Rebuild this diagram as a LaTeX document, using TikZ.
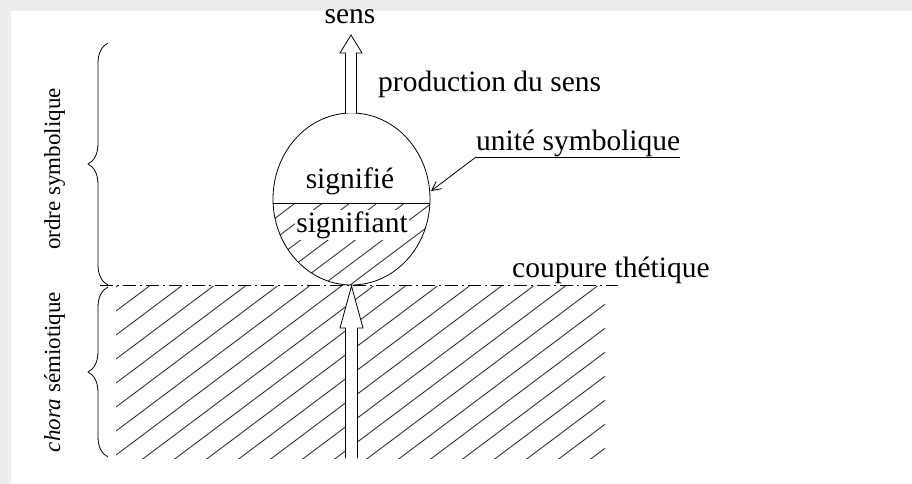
\documentclass[tikz,border=0pt]{standalone}
\usepackage{fontspec}
\setmainfont{Liberation Serif}
\usetikzlibrary{decorations.pathreplacing,arrows.meta}
\begin{document}
\begin{tikzpicture}[x=1pt,y=-1pt,
  lbl/.style={inner sep=0pt, font=\fontsize{29.5}{31}\selectfont},
  side/.style={inner sep=0pt, font=\fontsize{23}{25}\selectfont, rotate=90},
  hatch/.style={line width=0.9pt, black!80},
  hollow/.style={draw, line width=0.8pt, fill=white},
  thin/.style={line width=0.8pt},
  bracestyle/.style={decorate, decoration={brace, amplitude=20pt}, line width=0.8pt},
]
\useasboundingbox (0,0) rectangle (912,484);
\fill[black!7] (0,0) rectangle (912,484);
\fill[white] (11,11) rectangle (912,484);

% key points
\coordinate (E) at (351.5,199);
\coordinate (chordL) at (273.1,203);
\coordinate (chordR) at (429.9,203);
\coordinate (cutL) at (100,285);
\coordinate (cutR) at (618,285);
\coordinate (tipU) at (431,191);

% hatching of the lower region
\begin{scope}
  \clip (116,286) rectangle (605,458);
  \foreach \c in {374,398,...,926} \draw[hatch] (100,\c-75) -- (620,\c-465);
\end{scope}

% hatching of the lower half of the ellipse
\begin{scope}
  \clip (E) ellipse [x radius=78.5, y radius=86];
  \clip (260,203) rectangle (440,290);
  \foreach \c in {404,424.5,...,610} \draw[hatch] (260,\c-195) -- (440,\c-330);
\end{scope}

% ellipse and chord
\draw[thin] (E) ellipse [x radius=78.5, y radius=86];
\draw[thin] (chordL) -- (chordR);

% coupure thetique line
\draw[thin, dash pattern=on 13pt off 4pt on 2pt off 4pt] (cutL) -- (cutR);

% hollow arrows
\draw[hollow] (345.5,113.5) -- (345.5,53) -- (340,53) -- (351,35) -- (362,53) -- (356.5,53) -- (356.5,113.5);
\fill[white] (345.5,458) rectangle (357.5,328);
\draw[hollow] (345.5,458) -- (345.5,328) -- (340,328) -- (351.5,286) -- (363,328) -- (357.5,328) -- (357.5,458);

% braces
\draw[bracestyle] (108,285) -- (108,43);
\draw[bracestyle] (108,457) -- (108,287);

% side labels
\node[side, anchor=base] (ordre) at (60,169) {ordre symbolique};
\node[side, anchor=base] (chora) at (60,372) {\textit{chora} sémiotique};

% labels
\node[lbl, anchor=base] (sens) at (350,24) {sens};
\node[lbl, anchor=base west] (prod) at (378,92) {production du sens};
\node[lbl, anchor=base] (sig) at (350,188) {signifié};
\node[lbl, anchor=base, fill=white, inner sep=1.5pt] (sigt) at (352,232) {signifiant};
\node[lbl, anchor=base west] (unite) at (476,150) {unité symbolique};
\node[lbl, anchor=base west] (coup) at (512,277) {coupure thétique};

\draw[thin] ([yshift=-7pt]unite.base west) -- ([yshift=-7pt]unite.base east);
\draw[thin, -{Straight Barb[length=9pt,width=9pt]}] ([yshift=-7pt]unite.base west) -- (tipU);
\end{tikzpicture}
\end{document}
